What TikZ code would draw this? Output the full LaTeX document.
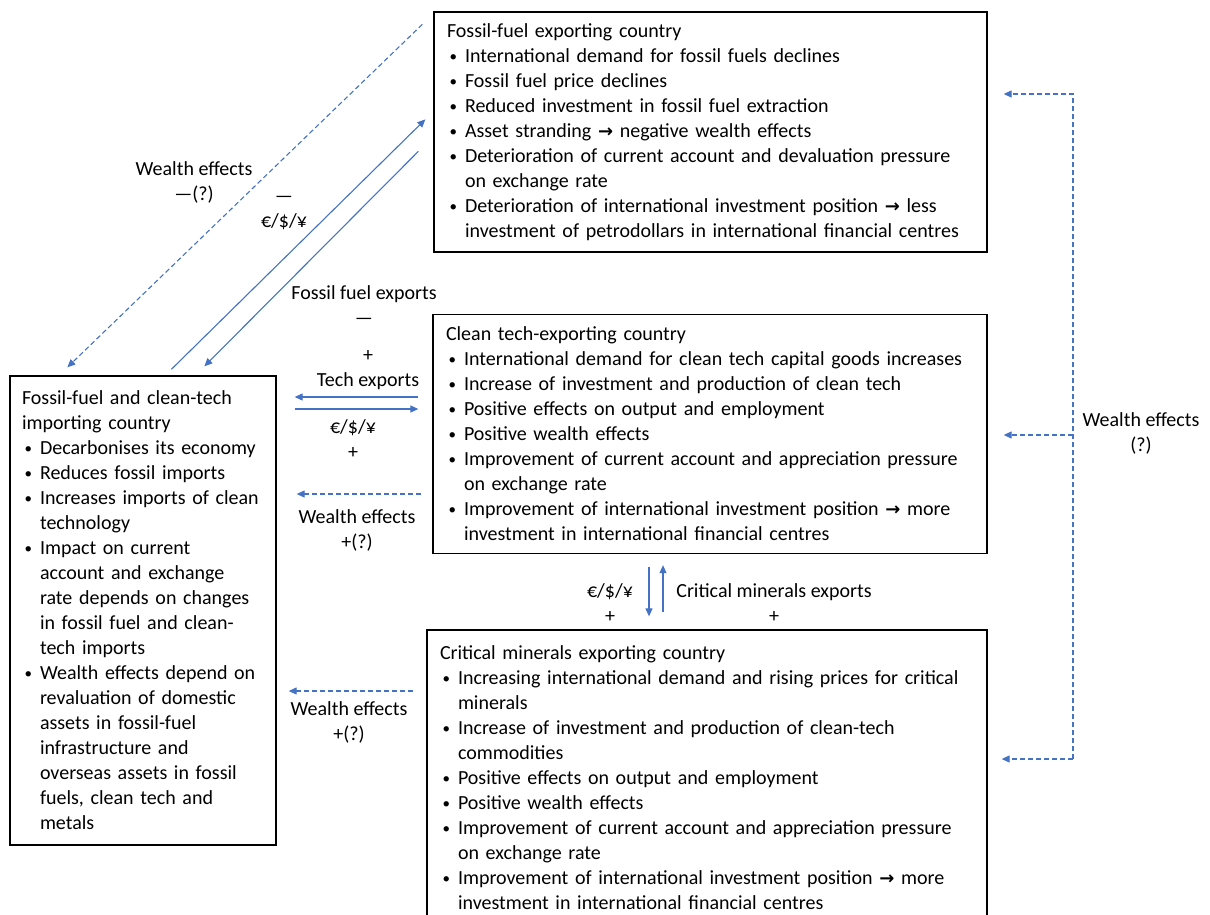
\documentclass[tikz,border=0pt]{standalone}
\usepackage{fontspec}
\setmainfont{Carlito}
\newfontfamily\arrfont{DejaVu Sans}
\usetikzlibrary{arrows.meta,positioning,calc}
\definecolor{flowblue}{RGB}{68,114,196}
\tikzset{
	country/.style={draw=black, line width=1.3pt, align=left, inner xsep=13pt, inner ysep=0pt, font=\fontsize{20}{25}\selectfont},
	flow/.style={->, >={Triangle[width=7pt,length=8pt]}, draw=flowblue, line width=1.1pt},
	wealth/.style={flow, dash pattern=on 5pt off 3pt},
	lbl/.style={font=\fontsize{20}{25}\selectfont, align=center, inner sep=0pt}
}
\newcommand{\bul}{\makebox[18pt][l]{\hspace{2.5pt}\raisebox{1pt}{\fontsize{15}{25}\selectfont\textbullet}}}
\newcommand{\cont}{\hspace*{18pt}}
\newcommand{\then}{{\arrfont\bfseries\fontsize{18}{25}\selectfont →}}

\begin{document}
\begin{tikzpicture}[x=1pt,y=-1pt]
\useasboundingbox (0,0) rectangle (1210,915);

% the four countries
\node[country, text width=527pt, minimum height=240pt] (FE) at (710.5,132) {Fossil-fuel exporting country\\
\bul International demand for fossil fuels declines\\
\bul Fossil fuel price declines\\
\bul Reduced investment in fossil fuel extraction\\
\bul Asset stranding \then{} negative wealth effects\\
\bul Deterioration of current account and devaluation pressure\\
\cont on exchange rate\\
\bul Deterioration of international investment position \then{} less\\
\cont investment of petrodollars in international financial centres};

\node[country, text width=528pt, minimum height=239pt] (CT) at (710,434) {Clean tech-exporting country\\
\bul International demand for clean tech capital goods increases\\
\bul Increase of investment and production of clean tech\\
\bul Positive effects on output and employment\\
\bul Positive wealth effects\\
\bul Improvement of current account and appreciation pressure\\
\cont on exchange rate\\
\bul Improvement of international investment position \then{} more\\
\cont investment in international financial centres};

\node[country, text width=534pt, minimum height=295pt] (CM) at (707,777.5) {Critical minerals exporting country\\
\bul Increasing international demand and rising prices for critical\\
\cont minerals\\
\bul Increase of investment and production of clean-tech\\
\cont commodities\\
\bul Positive effects on output and employment\\
\bul Positive wealth effects\\
\bul Improvement of current account and appreciation pressure\\
\cont on exchange rate\\
\bul Improvement of international investment position \then{} more\\
\cont investment in international financial centres};

\node[country, inner xsep=12pt, text width=242pt, minimum height=469pt] (IM) at (143,610.5) {Fossil-fuel and clean-tech\\
importing country\\
\bul Decarbonises its economy\\
\bul Reduces fossil imports\\
\bul Increases imports of clean\\
\cont technology\\
\bul Impact on current\\
\cont account and exchange\\
\cont rate depends on changes\\
\cont in fossil fuel and clean-\\
\cont tech imports\\
\bul Wealth effects depend on\\
\cont revaluation of domestic\\
\cont assets in fossil-fuel\\
\cont infrastructure and\\
\cont overseas assets in fossil\\
\cont fuels, clean tech and\\
\cont metals};

% labels
\node[lbl] (wfe) at (194,182) {Wealth effects\\—(?)};
\node[lbl] (pfe) at (284,213) {—\\€/\$/¥};
\node[lbl] (xfe) at (364,305.5) {Fossil fuel exports\\—};
\node[lbl] (xct) at (368,370.5) {+\\Tech exports};
\node[lbl] (pct) at (353,439.5) {€/\$/¥\\+};
\node[lbl] (wct) at (357,530) {Wealth effects\\+(?)};
\node[lbl] (wcm) at (349,722.5) {Wealth effects\\+(?)};
\node[lbl] (pcm) at (610,603) {€/\$/¥\\+};
\node[lbl] (xcm) at (774,603) {Critical minerals exports\\+};
\node[lbl] (wall) at (1141,433) {Wealth effects\\(?)};

% flows with the fossil-fuel exporter
\draw[wealth] ([shift={(-11,13)}]FE.north west) -- ([shift={(58,-8)}]IM.north west);
\draw[flow] ([shift={(162,-6)}]IM.north west) -- ([shift={(-8,108)}]FE.north west);
\draw[flow] ([shift={(-15,140)}]FE.north west) -- ([shift={(195,-9)}]IM.north west);

% flows with the clean-tech exporter
\draw[flow] ([xshift=-14pt]CT.west |- 0,397) -- ([xshift=18pt]IM.east |- 0,397);
\draw[flow] ([xshift=18pt]IM.east |- 0,409) -- ([xshift=-14pt]CT.west |- 0,409);
\draw[wealth] ([xshift=-11pt]CT.west |- 0,494) -- ([xshift=20pt]IM.east |- 0,494);

% flows with the minerals exporter
\draw[wealth] ([xshift=-13pt]CM.west |- 0,691) -- ([xshift=12pt]IM.east |- 0,691);
\draw[flow] ([yshift=-13pt]CT.south -| 649,0) -- ([yshift=13pt]CM.north -| 649,0);
\draw[flow] ([yshift=17pt]CM.north -| 663,0) -- ([yshift=-11pt]CT.south -| 663,0);

% wealth effects on the right
\coordinate (rtop) at (1073,94);
\coordinate (rmid) at (1073,435);
\coordinate (rbot) at (1073,759);
\draw[wealth] (rbot) -- (rtop) -- ([xshift=16pt]FE.east |- rtop);
\draw[wealth] (rmid) -- ([xshift=16pt]CT.east |- rmid);
\draw[wealth] (rbot) -- ([xshift=14pt]CM.east |- rbot);
\end{tikzpicture}
\end{document}
